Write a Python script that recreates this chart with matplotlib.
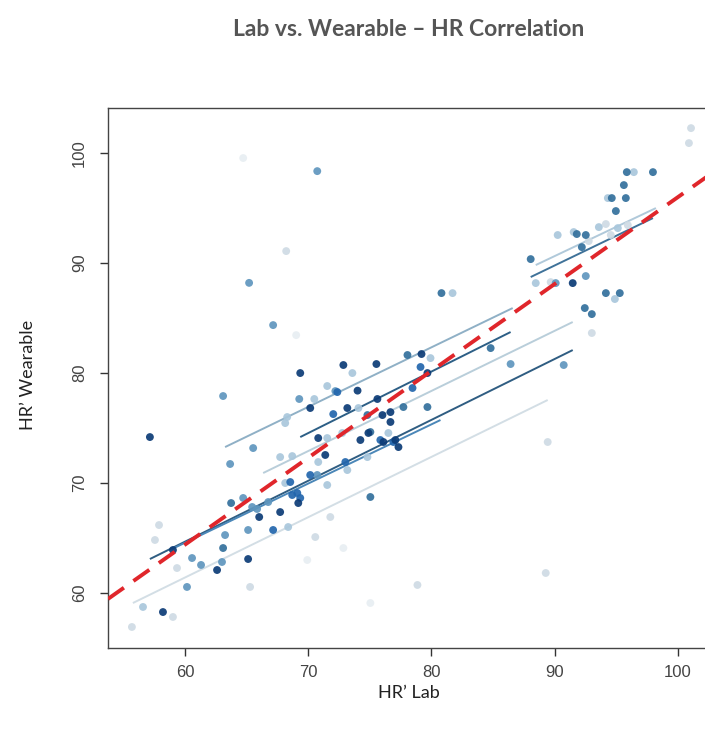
import matplotlib
matplotlib.use("Agg")
import matplotlib.pyplot as plt
import numpy as np

# ---------------- data ----------------
title = "Lab vs. Wearable \u2013 HR Correlation"
xlabel = "HR\u2019 Lab"
ylabel = "HR\u2019 Wearable"
xticks = [60, 70, 80, 90, 100]
yticks = [60, 70, 80, 90, 100]

# points grouped by shade (HR' Lab, HR' Wearable)
navy_x = [57.15, 69.35, 72.85, 75.53, 70.16, 74.0, 73.17, 75.61, 76.02, 76.67, 76.67, 74.23, 70.81,
          69.19, 67.72, 66.02, 62.60, 65.12, 58.21, 59.02, 77.07, 77.32, 76.10, 74.88, 71.38, 91.46,
          79.19, 79.67]
navy_y = [74.18, 80.0, 80.73, 80.82, 76.82, 78.4, 76.82, 77.64, 76.18, 76.45, 75.55, 73.91, 74.09,
          68.18, 67.36, 66.91, 62.09, 63.09, 58.27, 63.91, 73.91, 73.27, 73.73, 74.55, 72.55, 88.18,
          81.73, 80.0]

blue_x = [68.70, 69.11, 69.35, 75.85, 76.91, 73.01, 68.54, 70.16, 78.46, 79.11, 67.15, 72.03, 72.36]
blue_y = [68.91, 69.09, 68.64, 73.91, 73.73, 71.91, 70.09, 70.73, 78.64, 80.55, 65.73, 76.27, 78.27]

steel_x = [95.85, 97.97, 95.61, 94.63, 95.77, 94.96, 91.79, 92.52, 92.20, 88.05, 80.81, 94.15, 95.28,
           92.44, 93.01, 84.80, 78.05, 77.72, 79.67, 75.04, 63.09, 74.80, 75.04, 63.74]
steel_y = [98.27, 98.27, 97.09, 95.91, 95.91, 94.73, 92.64, 92.55, 91.45, 90.36, 87.27, 87.27, 87.27,
           85.91, 85.36, 82.27, 81.64, 76.91, 76.91, 68.73, 64.09, 76.18, 74.64, 68.18]

medium_x = [63.09, 65.20, 67.15, 70.73, 69.27, 72.20, 65.53, 63.66, 70.73, 66.75, 65.85, 65.12, 64.72,
            63.25, 63.0, 60.57, 61.30, 60.16, 86.42, 90.73, 90.08, 92.52, 65.45]
medium_y = [77.91, 88.2, 84.36, 98.36, 77.64, 78.36, 73.18, 71.73, 70.73, 68.27, 67.64, 65.73, 68.64,
            65.27, 62.82, 63.18, 62.55, 60.55, 80.82, 80.73, 88.18, 88.82, 67.82]

light_x = [73.58, 71.54, 70.49, 74.07, 68.29, 68.13, 71.54, 72.76, 67.72, 68.70, 68.13, 70.81, 73.17,
           74.80, 71.54, 68.37, 76.50, 79.92, 81.71, 90.24, 91.54, 96.42, 94.31, 88.46, 94.88, 56.59,
           93.58, 95.12]
light_y = [80.0, 78.82, 77.64, 76.82, 76.0, 75.45, 74.09, 74.55, 72.36, 72.45, 70.0, 71.91, 71.18,
           72.36, 69.82, 66.0, 74.55, 81.36, 87.27, 92.55, 92.82, 98.27, 95.91, 88.18, 86.73, 58.73,
           93.27, 93.18]

pale_x = [68.21, 71.79, 70.57, 57.89, 57.56, 59.35, 59.02, 55.69, 65.28, 78.86, 89.43, 89.27, 93.01,
          101.06, 100.89, 94.15, 95.93, 94.55, 92.76, 89.67]
pale_y = [91.09, 66.91, 65.09, 66.18, 64.82, 62.27, 57.82, 56.91, 60.55, 60.73, 73.73, 61.82, 83.64,
          102.27, 100.91, 93.55, 93.45, 92.55, 92.0, 88.27]

faint_x = [64.72, 69.02, 72.85, 69.92, 75.04]
faint_y = [99.55, 83.45, 64.09, 63.0, 59.09]

# per-subject fit lines: (x start, x end, y start, y end)
fit_x0 = [63.25, 69.35, 66.34, 57.15, 55.77, 58.94, 88.05, 88.46]
fit_x1 = [86.59, 86.42, 91.46, 91.46, 89.43, 80.73, 97.97, 98.21]
fit_y0 = [73.27, 74.18, 70.91, 63.09, 59.09, 64.0, 88.73, 89.82]
fit_y1 = [85.91, 83.73, 84.64, 82.09, 77.55, 75.73, 94.09, 95.0]
fit_colors = ['#8fb0c6', '#2d5f86', '#b9ceda', '#2f5d82', '#d3dee5', '#4b87b8', '#3f7299', '#b0c9da']

# overall regression (red dashed)
reg_intercept = 17.0
reg_slope = 0.79

# ---------------- plot ----------------
fig = plt.figure(figsize=(7.05, 7.33), dpi=100)
ax = fig.add_axes([108/705, 85/733, 602/705, 540/733])
ax.set_xlim(53.75, 102.6)
ax.set_ylim(55.0, 104.1)

for x0, x1, y0, y1, c in zip(fit_x0, fit_x1, fit_y0, fit_y1, fit_colors):
    ax.plot([x0, x1], [y0, y1], color=c, lw=1.4, solid_capstyle='butt', zorder=2)

groups = [
    (faint_x, faint_y, '#e8eef2'),
    (pale_x, pale_y, '#cfdbe4'),
    (light_x, light_y, '#a9c7dc'),
    (medium_x, medium_y, '#5f96be'),
    (steel_x, steel_y, '#33709c'),
    (blue_x, blue_y, '#2266ad'),
    (navy_x, navy_y, '#0c3b76'),
]
for gx, gy, c in groups:
    ax.scatter(gx, gy, s=32, color=c, edgecolors='none', alpha=0.92, zorder=3)

xr = np.array(ax.get_xlim())
ax.plot(xr, reg_intercept + reg_slope * xr, color='#e0262b', lw=2.8,
        linestyle=(0, (5, 3)), zorder=4)
ax.set_xlim(53.75, 102.6)

ax.set_xticks(xticks)
ax.set_yticks(yticks)
ax.set_xticklabels([str(t) for t in xticks], fontfamily='Liberation Sans', fontsize=12, color='#444444')
ax.set_yticklabels([str(t) for t in yticks], fontfamily='Liberation Sans', fontsize=12, color='#444444',
                   rotation=90, va='center')
ax.tick_params(axis='both', direction='out', length=6, width=1, color='#333333')
ax.tick_params(axis='x', pad=6)
ax.tick_params(axis='y', pad=9)
for sp in ax.spines.values():
    sp.set_color('#444444')
    sp.set_linewidth(1.0)
ax.spines['right'].set_visible(False)

fig.text(409/705, 1 - 30/733, title, ha='center', va='center', fontfamily='Lato',
         fontweight='bold', fontsize=16.5, color='#555555')
fig.text(409/705, 1 - 693/733, xlabel, ha='center', va='center', fontfamily='Lato',
         fontsize=13, color='#222222')
fig.text(28/705, 1 - 375/733, ylabel, ha='center', va='center', rotation=90, fontfamily='Lato',
         fontsize=13, color='#222222')

fig.savefig('out.png', dpi=100)
